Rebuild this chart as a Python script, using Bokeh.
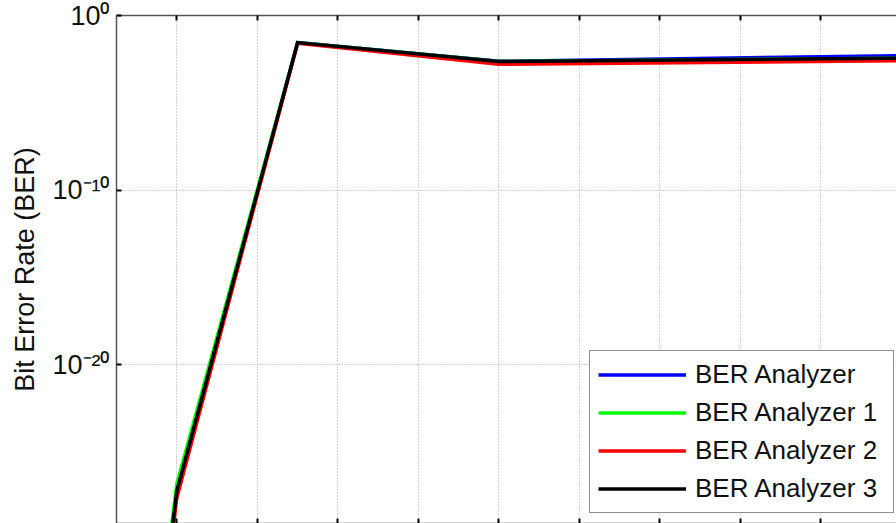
from bokeh.plotting import figure
from bokeh.models import Range1d, FixedTicker, LinearAxis, Legend, LegendItem
from bokeh.embed import file_html
from bokeh.resources import INLINE

# x: data rate (Gbit/s)
data_rate = [0.25, 1, 2.5, 5, 10]
ber_analyzer   = [1.0e-55, 6.3e-28, 0.028, 0.0024, 0.0050]
ber_analyzer_1 = [3.2e-55, 1.6e-27, 0.028, 0.0023, 0.0036]
ber_analyzer_2 = [3.2e-56, 2.5e-28, 0.026, 0.0016, 0.0026]
ber_analyzer_3 = [1.0e-55, 6.3e-28, 0.028, 0.0023, 0.0036]

series_names = ["BER Analyzer", "BER Analyzer 1", "BER Analyzer 2", "BER Analyzer 3"]
series_colors = ["#0000ff", "#00ff00", "#ff0000", "#000000"]

x_ticks = [1, 2, 3, 4, 5, 6, 7, 8, 9, 10]
y_ticks = [1e-20, 1e-10, 1.0]
y_tick_labels = {1e-20: "10⁻²⁰", 1e-10: "10⁻¹⁰", 1.0: "10⁰"}
y_label = "Bit Error Rate (BER)"

FONT = "Liberation Sans"

p = figure(width=896, height=523, output_backend="svg", toolbar_location=None,
           y_axis_type="log",
           x_range=Range1d(0.25, 9.94), y_range=Range1d(10 ** -29.08, 1.0),
           min_border_left=116, min_border_top=15, min_border_right=0, min_border_bottom=0,
           background_fill_color="white", border_fill_color="white")
p.outline_line_color = None

# grids
p.xgrid.ticker = FixedTicker(ticks=x_ticks)
p.ygrid.ticker = FixedTicker(ticks=y_ticks)
for g in (p.xgrid, p.ygrid):
    g.grid_line_color = "#a8a8a8"
    g.grid_line_dash = "1 2"
    g.grid_line_width = 1

# y axis
ya = p.yaxis[0]
ya.ticker = FixedTicker(ticks=y_ticks, minor_ticks=[])
ya.major_label_overrides = y_tick_labels
ya.major_label_text_font = FONT
ya.major_label_text_font_size = "27px"
ya.major_label_text_color = "#111111"
ya.major_label_standoff = 7
ya.major_tick_in = 5
ya.major_tick_out = 0
ya.major_tick_line_width = 2
ya.major_tick_line_color = "black"
ya.minor_tick_line_color = None
ya.axis_line_color = "#555555"
ya.axis_line_width = 1.5
ya.axis_label = y_label
ya.axis_label_text_font = FONT
ya.axis_label_text_font_size = "27px"
ya.axis_label_text_font_style = "normal"
ya.axis_label_text_color = "#111111"
ya.axis_label_standoff = 9

# x axis (bottom) and top box axis: ticks only (labels lie outside the picture)
def style_x(ax):
    ax.ticker = FixedTicker(ticks=x_ticks, minor_ticks=[])
    ax.major_label_text_font_size = "1px"
    ax.major_label_text_color = None
    ax.major_label_standoff = 0
    ax.major_tick_in = 5
    ax.major_tick_out = 0
    ax.major_tick_line_width = 2
    ax.major_tick_line_color = "black"
    ax.minor_tick_line_color = None
    ax.axis_line_color = "#555555"
    ax.axis_line_width = 1.5

style_x(p.xaxis[0])
top_axis = LinearAxis()
style_x(top_axis)
p.add_layout(top_axis, "above")

ys = [ber_analyzer, ber_analyzer_1, ber_analyzer_2, ber_analyzer_3]
items = []
for name, color, yv in zip(series_names, series_colors, ys):
    r = p.line(data_rate, yv, line_color=color, line_width=3.5, line_join="miter")
    items.append(LegendItem(label=name, renderers=[r]))

legend = Legend(items=items, location=(473, 10),
                label_text_font=FONT, label_text_font_size="26px",
                label_text_color="#111111",
                border_line_color="#222222", border_line_width=1,
                background_fill_color="white", background_fill_alpha=1.0,
                padding=8, spacing=7, glyph_width=88, glyph_height=29,
                label_height=29, label_width=190, label_standoff=9, margin=0)
p.add_layout(legend)

open("out.html", "w").write(file_html(p, INLINE))
